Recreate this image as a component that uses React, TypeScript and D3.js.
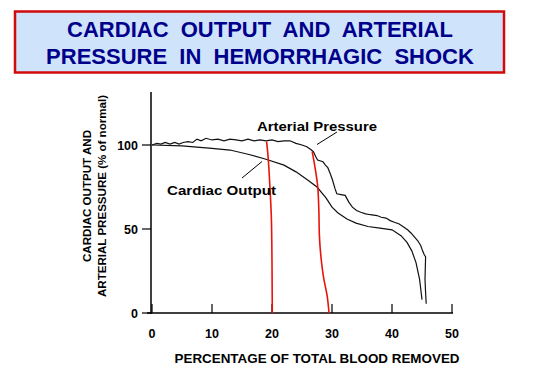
import React from 'react';
import * as d3 from 'd3';

// values (x = % of blood removed, y = % of normal)
const xTicks = [0, 10, 20, 30, 40, 50];
const yTicks = [0, 50, 100];

const cardiacX = [0, 5, 10, 13, 16, 19, 22, 24, 26, 27.5, 29, 30, 31, 32.5, 34, 36, 38, 40, 41.5, 42.5, 43.3, 44, 44.6, 45];
const cardiacY = [100, 99.5, 98, 97, 94.5, 91.5, 88, 84, 79, 75, 68.5, 63, 59.5, 56, 53.5, 51.5, 50.5, 49.5, 46, 42, 37, 30, 20, 8];

const pressureX = [0, 0.8, 1.5, 2.2, 3, 3.8, 4.5, 5.2, 6, 6.8, 7.5, 8.2, 9, 10, 11, 12, 13, 14, 15, 16, 17, 18, 19, 20, 21, 22, 23, 24, 25, 25.8, 26.4, 26.9, 27.3, 27.6, 28.5, 28.9, 29.3, 29.7, 30.1, 30.5, 30.8, 31.5, 32.2, 32.8, 33.4, 34.1, 34.8, 35.6, 36.4, 37.5, 38.2, 39, 39.7, 40.4, 41.2, 42, 42.6, 43.2, 43.8, 44.3, 44.8, 45.1, 45.4, 45.6, 45.5, 45.6, 45.7];
const pressureY = [100, 101, 100.5, 101.5, 100.5, 101.5, 100.5, 101.5, 102, 101.5, 103.5, 102.5, 104, 103, 103.5, 102.5, 103.5, 103, 102.5, 103.5, 102.5, 103, 102.5, 103, 102, 102.5, 102.5, 101, 100, 99, 97.5, 96, 93, 91, 90, 88, 86.5, 83, 79, 74, 71, 70.5, 70, 66, 63, 61, 60, 59, 58.5, 58, 57, 56.5, 55, 54, 53, 51, 49.5, 47.5, 45, 43, 40, 37, 34.5, 33.5, 20, 12, 5.5];

const red1X = [19.1, 19.3, 19.5, 19.7, 19.9, 20, 20.05];
const red1Y = [102, 95, 85, 72, 56, 30, 0];
const red2X = [26.7, 27.2, 27.6, 27.8, 27.9, 28.2, 28.6, 29.2, 29.5];
const red2Y = [96, 86, 76, 62, 46, 32, 21, 10, 0];

const App: React.FC = () => {
  const x = d3.scaleLinear().domain([0, 50]).range([152, 452]);
  const y = d3.scaleLinear().domain([0, 100]).range([313, 145]);
  const line = d3.line<[number, number]>().x((d) => x(d[0])).y((d) => y(d[1]));
  const smooth = d3.line<[number, number]>().x((d) => x(d[0])).y((d) => y(d[1])).curve(d3.curveMonotoneY);

  const cardiac = line(cardiacX.map((v, i) => [v, cardiacY[i]])) || '';
  const pressure = line(pressureX.map((v, i) => [v, pressureY[i]])) || '';
  const red1 = smooth(red1X.map((v, i) => [v, red1Y[i]])) || '';
  const red2 = smooth(red2X.map((v, i) => [v, red2Y[i]])) || '';

  const font = 'Liberation Sans, Arial, sans-serif';

  return (
    <svg width={533} height={371} style={{ position: 'absolute', left: 0, top: 0 }} fontFamily={font}>
      <rect x={0} y={0} width={533} height={371} fill="#fff" />
      {/* title box */}
      <rect x={15} y={11.5} width={489} height={61} fill="#cfe3fb" stroke="#d10a0a" strokeWidth={2.5} />
      <text x={260} y={37} textAnchor="middle" fontSize={22} fontWeight="bold" fill="#00008b" style={{ whiteSpace: 'pre' }}>
        CARDIAC  OUTPUT  AND  ARTERIAL
      </text>
      <text x={260} y={64} textAnchor="middle" fontSize={22} fontWeight="bold" fill="#00008b" style={{ whiteSpace: 'pre' }}>
        PRESSURE  IN  HEMORRHAGIC  SHOCK
      </text>

      {/* axes */}
      <line x1={x(0) - 1} x2={x(0) - 1} y1={92} y2={y(0) + 1} stroke="#000" strokeWidth={1.5} />
      <line x1={x(0) - 5} x2={x(50) + 1} y1={y(0)} y2={y(0)} stroke="#000" strokeWidth={1.5} />
      {xTicks.map((t) => (
        <g key={'x' + t}>
          <line x1={x(t)} x2={x(t)} y1={y(0)} y2={y(0) - 9} stroke="#000" strokeWidth={1.2} />
          <text x={x(t)} y={338} textAnchor="middle" fontSize={12.5} fontWeight="bold">{t}</text>
        </g>
      ))}
      {yTicks.map((t) => (
        <g key={'y' + t}>
          <line x1={x(0) - 10} x2={x(0) - 1} y1={y(t)} y2={y(t)} stroke="#000" strokeWidth={1.2} />
          <text x={138} y={y(t) + 4.5} textAnchor="end" fontSize={12.5} fontWeight="bold">{t}</text>
        </g>
      ))}
      <text x={317} y={363} textAnchor="middle" fontSize={12} fontWeight="bold" textLength={285} lengthAdjust="spacingAndGlyphs">PERCENTAGE OF TOTAL BLOOD REMOVED</text>
      <g transform="translate(91,196) rotate(-90)">
        <text x={0} y={0} textAnchor="middle" fontSize={11.5} fontWeight="bold" textLength={132} lengthAdjust="spacingAndGlyphs">CARDIAC OUTPUT AND</text>
        <text x={0} y={15} textAnchor="middle" fontSize={11.5} fontWeight="bold" textLength={202} lengthAdjust="spacingAndGlyphs">ARTERIAL PRESSURE (% of normal)</text>
      </g>

      {/* curves */}
      <path d={cardiac} fill="none" stroke="#111" strokeWidth={1.2} />
      <path d={pressure} fill="none" stroke="#111" strokeWidth={1.2} />
      <path d={red1} fill="none" stroke="#e8140c" strokeWidth={1.6} />
      <path d={red2} fill="none" stroke="#e8140c" strokeWidth={1.6} />

      {/* annotations */}
      <text x={257} y={131} fontSize={13} fontWeight="bold" textLength={120} lengthAdjust="spacingAndGlyphs">Arterial Pressure</text>
      <line x1={337} y1={132} x2={317} y2={144.5} stroke="#000" strokeWidth={1} />
      <text x={167} y={195} fontSize={13} fontWeight="bold" textLength={109} lengthAdjust="spacingAndGlyphs">Cardiac Output</text>
      <line x1={242} y1={178} x2={262} y2={161.5} stroke="#000" strokeWidth={1} />
    </svg>
  );
};

export default App;
